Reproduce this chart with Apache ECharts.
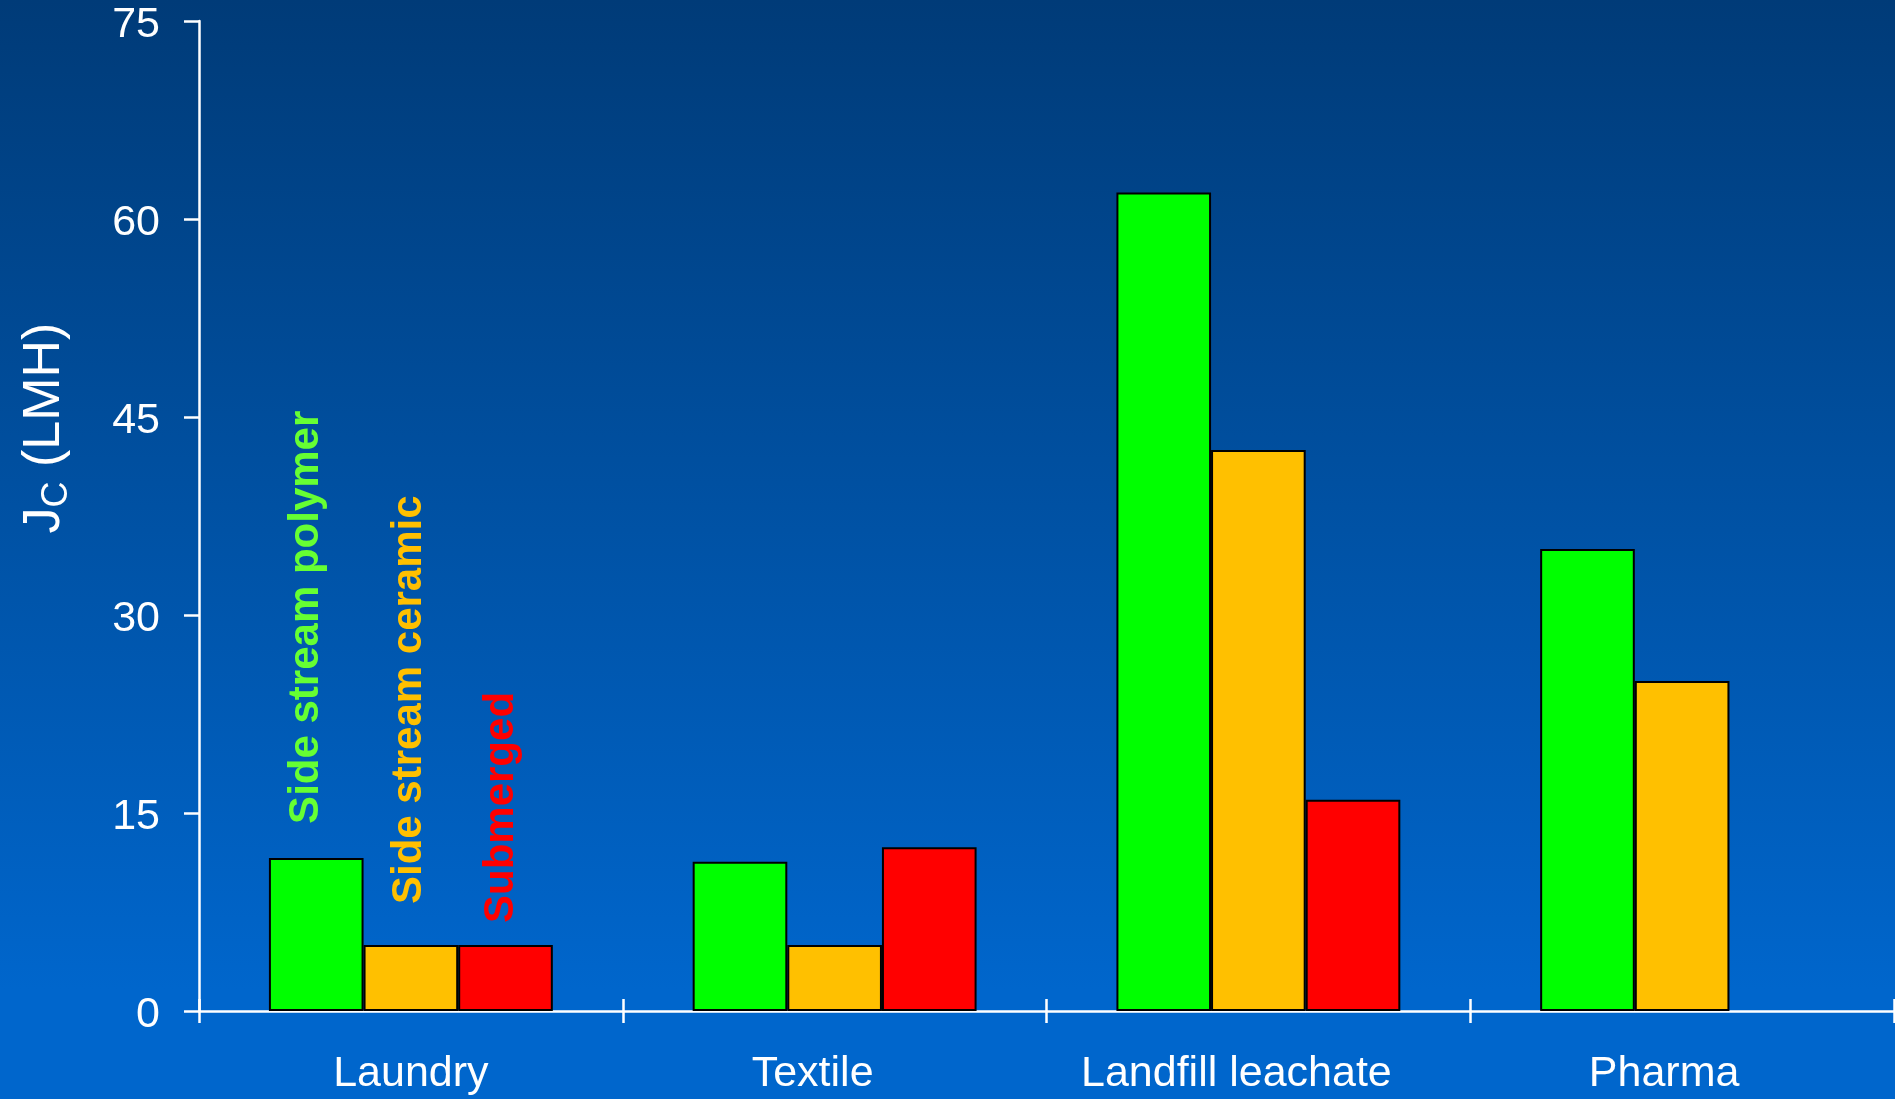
<!DOCTYPE html>
<html>
<head>
<meta charset="utf-8">
<script src="https://cdn.jsdelivr.net/npm/echarts@6/dist/echarts.min.js"></script>
<style>
  html, body { margin: 0; padding: 0; width: 100%; height: 100%; overflow: hidden; }
  #chart { width: 1895px; height: 1099px; }
</style>
</head>
<body>
<div id="chart"></div>
<script>
// Critical flux by wastewater type and MBR configuration
const categories = ['Laundry', 'Textile', 'Landfill leachate', 'Pharma'];
const seriesNames = ['Side stream polymer', 'Side stream ceramic', 'Submerged'];
const sideStreamPolymer = [11.6, 11.3, 62, 35];
const sideStreamCeramic = [5, 5, 42.5, 25];
const submerged = [5, 12.4, 16, null];
const yMin = 0, yMax = 75, yStep = 15;

const FONT = '"Liberation Sans", Arial, sans-serif';
const barColors = ['#00ff00', '#ffc000', '#ff0000'];
const labelColors = ['#66ff33', '#ffc000', '#ff0000'];
// gap between bar top and the start of the vertical series name
const labelDistance = [34, 41, 22];
// sideways nudge of the vertical name (negative = towards the left)
const labelShift = [-10, -1, -4];
// horizontal nudge of each category name (right padding moves it left)
const categoryLabelPad = [0, 44, 44, 36];

function buildData(values, k) {
  // the series name is written vertically above the first group only
  return values.map((v, i) => {
    if (v === null) return '-';
    if (i !== 0) return v;
    return {
      value: v,
      label: {
        show: true,
        position: 'top',
        rotate: 90,
        align: 'left',
        verticalAlign: 'middle',
        distance: labelDistance[k],
        offset: [0, labelShift[k]],
        formatter: seriesNames[k],
        color: labelColors[k],
        fontSize: 42,
        fontWeight: 'bold',
        fontFamily: FONT
      }
    };
  });
}

const chart = echarts.init(document.getElementById('chart'));
chart.setOption({
  animation: false,
  backgroundColor: new echarts.graphic.LinearGradient(0, 0, 0, 1, [
    { offset: 0, color: '#003b78' },
    { offset: 0.9, color: '#0066cc' },
    { offset: 1, color: '#0066cc' }
  ]),
  grid: { left: 199, right: 1, top: 21, bottom: 88, containLabel: false },
  xAxis: [
    {
      type: 'category',
      data: categories.map((c, i) => ({ value: c, textStyle: { padding: [0, categoryLabelPad[i], 0, 0] } })),
      boundaryGap: true,
      axisLine: { show: true, lineStyle: { color: '#ffffff', width: 2.5 } },
      axisTick: { show: true, inside: false, length: 12, lineStyle: { color: '#ffffff', width: 2.5 } },
      axisLabel: { color: '#ffffff', fontSize: 43, fontFamily: FONT, margin: 42 },
      splitLine: { show: false }
    },
    {
      // inner half of the crossing tick marks
      type: 'category',
      data: categories,
      position: 'bottom',
      boundaryGap: true,
      axisLine: { show: false },
      axisTick: { show: true, inside: true, length: 12, lineStyle: { color: '#ffffff', width: 2.5 } },
      axisLabel: { show: false },
      splitLine: { show: false }
    }
  ],
  yAxis: {
    type: 'value',
    min: yMin,
    max: yMax,
    interval: yStep,
    name: '{j|J}{c|C}{r| (LMH)}',
    nameLocation: 'middle',
    nameGap: 124,
    nameTextStyle: {
      color: '#ffffff',
      fontFamily: FONT,
      padding: [0, 0, 0, 176],
      rich: {
        j: { fontSize: 52, lineHeight: 60, color: '#ffffff', fontFamily: FONT },
        c: { fontSize: 36, lineHeight: 20, verticalAlign: 'bottom', color: '#ffffff', fontFamily: FONT },
        r: { fontSize: 52, lineHeight: 60, color: '#ffffff', fontFamily: FONT }
      }
    },
    axisLine: { show: true, lineStyle: { color: '#ffffff', width: 2.5 } },
    axisTick: { show: true, inside: false, length: 15, lineStyle: { color: '#ffffff', width: 2.5 } },
    axisLabel: {
      color: '#ffffff',
      fontSize: 43,
      fontFamily: FONT,
      margin: 39,
      formatter: '{v|{value}}',
      rich: { v: { color: '#ffffff', fontSize: 43, fontFamily: FONT, padding: [9, 0, 0, 0] } }
    },
    splitLine: { show: false }
  },
  series: [sideStreamPolymer, sideStreamCeramic, submerged].map((vals, k) => ({
    name: seriesNames[k],
    type: 'bar',
    xAxisIndex: 0,
    barGap: '0%',
    barCategoryGap: '33%',
    itemStyle: { color: barColors[k], borderColor: '#000000', borderWidth: 2 },
    data: buildData(vals, k)
  }))
});
</script>
</body>
</html>
